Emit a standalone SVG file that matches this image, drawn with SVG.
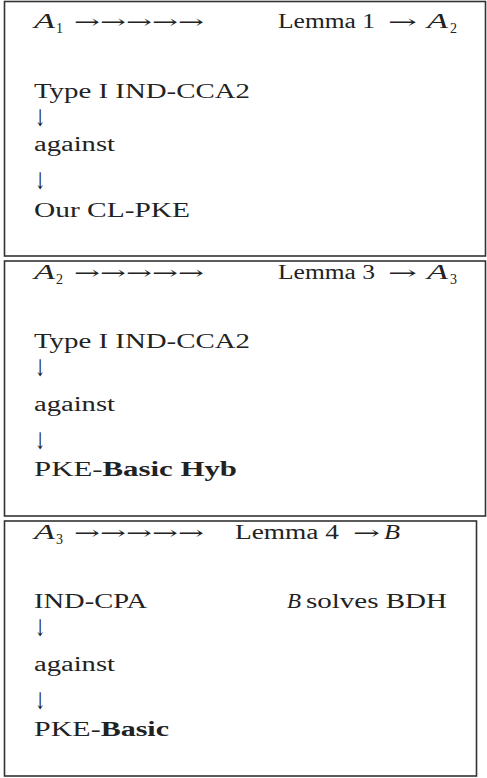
<svg xmlns="http://www.w3.org/2000/svg" width="487" height="778" viewBox="0 0 487 778">
<style>
.box{fill:#fff;stroke:#333;stroke-width:1.6}
text{font-family:"Liberation Serif","DejaVu Serif",serif;font-size:20px;fill:#222}
.it{font-style:italic}
.sub{font-size:14px}
.b{font-weight:bold}
.ar{font-family:"DejaVu Serif",serif;font-size:18px}
.dn{font-family:"DejaVu Serif",serif;font-size:23px}
</style>
<rect width="487" height="778" fill="#fff"/>
<g id="box1">
<rect class="box" x="4.5" y="1.5" width="481" height="254.5"/>
<text class="it" x="34" y="28" textLength="21" lengthAdjust="spacingAndGlyphs">A</text>
<text class="sub" x="56" y="33">1</text>
<text class="ar" x="74" y="28" textLength="130" lengthAdjust="spacingAndGlyphs">→→→→→</text>
<text x="278" y="28" textLength="97" lengthAdjust="spacingAndGlyphs">Lemma 1</text>
<text class="ar" x="388" y="28" textLength="29" lengthAdjust="spacingAndGlyphs">→</text>
<text class="it" x="427" y="28" textLength="21" lengthAdjust="spacingAndGlyphs">A</text>
<text class="sub" x="450" y="33">2</text>
<text x="34" y="98" textLength="216" lengthAdjust="spacingAndGlyphs">Type I IND-CCA2</text>
<text class="dn" x="34" y="126" textLength="12" lengthAdjust="spacingAndGlyphs">↓</text>
<text x="34" y="151" textLength="81" lengthAdjust="spacingAndGlyphs">against</text>
<text class="dn" x="34" y="189" textLength="12" lengthAdjust="spacingAndGlyphs">↓</text>
<text x="34" y="217" textLength="156" lengthAdjust="spacingAndGlyphs">Our CL-PKE</text>
</g>
<g id="box2">
<rect class="box" x="4.5" y="261" width="481" height="255"/>
<text class="it" x="34" y="279" textLength="21" lengthAdjust="spacingAndGlyphs">A</text>
<text class="sub" x="56" y="284">2</text>
<text class="ar" x="74" y="279" textLength="130" lengthAdjust="spacingAndGlyphs">→→→→→</text>
<text x="278" y="279" textLength="97" lengthAdjust="spacingAndGlyphs">Lemma 3</text>
<text class="ar" x="388" y="279" textLength="29" lengthAdjust="spacingAndGlyphs">→</text>
<text class="it" x="427" y="279" textLength="21" lengthAdjust="spacingAndGlyphs">A</text>
<text class="sub" x="450" y="284">3</text>
<text x="34" y="348" textLength="216" lengthAdjust="spacingAndGlyphs">Type I IND-CCA2</text>
<text class="dn" x="34" y="376" textLength="12" lengthAdjust="spacingAndGlyphs">↓</text>
<text x="34" y="411" textLength="81" lengthAdjust="spacingAndGlyphs">against</text>
<text class="dn" x="34" y="449" textLength="12" lengthAdjust="spacingAndGlyphs">↓</text>
<text x="34" y="476" textLength="203" lengthAdjust="spacingAndGlyphs">PKE-<tspan class="b">Basic Hyb</tspan></text>
</g>
<g id="box3">
<rect class="box" x="4.5" y="521" width="472" height="255"/>
<text class="it" x="34" y="539" textLength="21" lengthAdjust="spacingAndGlyphs">A</text>
<text class="sub" x="56" y="544">3</text>
<text class="ar" x="74" y="539" textLength="130" lengthAdjust="spacingAndGlyphs">→→→→→</text>
<text x="235" y="539" textLength="104" lengthAdjust="spacingAndGlyphs">Lemma 4</text>
<text class="ar" x="353" y="539" textLength="27" lengthAdjust="spacingAndGlyphs">→</text>
<text class="it" x="384" y="539" textLength="16" lengthAdjust="spacingAndGlyphs">B</text>
<text x="34" y="608" textLength="113" lengthAdjust="spacingAndGlyphs">IND-CPA</text>
<text class="it" x="287" y="608" textLength="14" lengthAdjust="spacingAndGlyphs">B</text>
<text x="306" y="608" textLength="141" lengthAdjust="spacingAndGlyphs">solves BDH</text>
<text class="dn" x="34" y="636" textLength="12" lengthAdjust="spacingAndGlyphs">↓</text>
<text x="34" y="671" textLength="81" lengthAdjust="spacingAndGlyphs">against</text>
<text class="dn" x="34" y="709" textLength="12" lengthAdjust="spacingAndGlyphs">↓</text>
<text x="34" y="736" textLength="135" lengthAdjust="spacingAndGlyphs">PKE-<tspan class="b">Basic</tspan></text>
</g>
</svg>
